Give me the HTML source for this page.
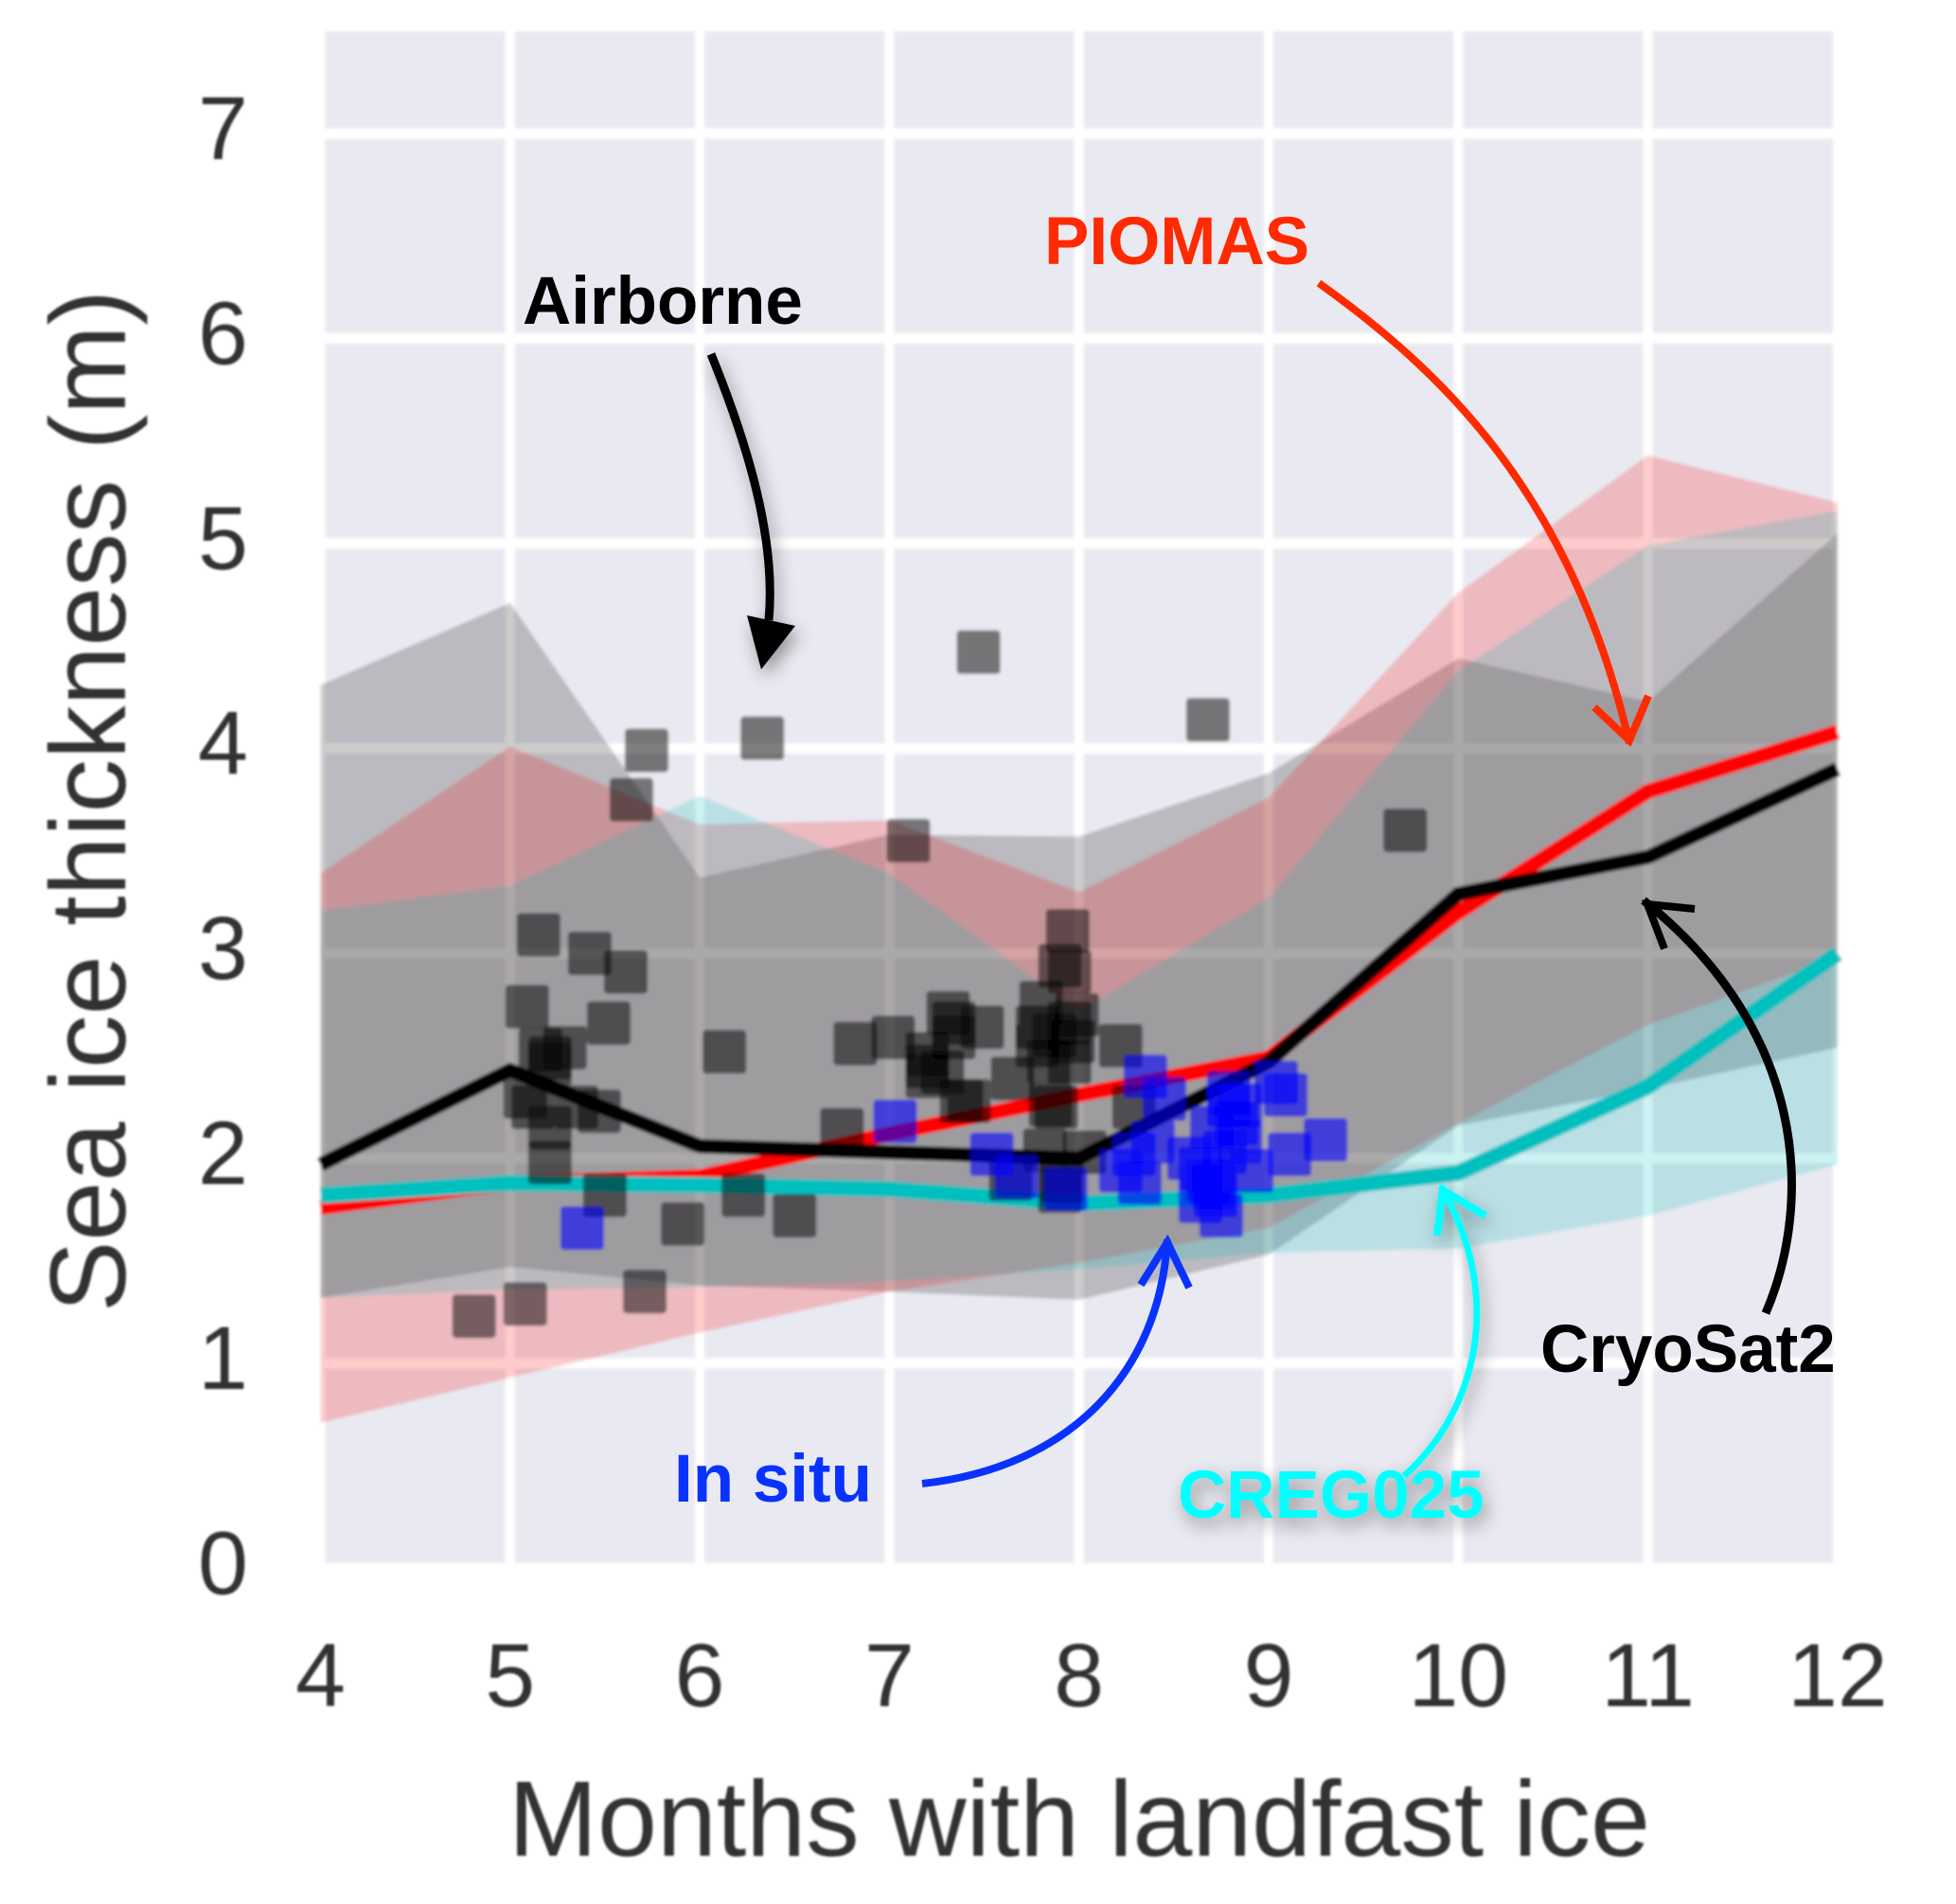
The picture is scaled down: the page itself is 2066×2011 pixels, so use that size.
<!DOCTYPE html>
<html lang="en">
<head>
<meta charset="utf-8">
<title>Sea ice thickness vs months with landfast ice</title>
<style>
html,body{margin:0;padding:0;background:#fff;width:2066px;height:2011px;overflow:hidden}
svg{display:block}
text{font-family:"Liberation Sans",Arial,sans-serif}
.tick{font-size:95px;fill:#303030}
.title{font-size:113px;fill:#303030}
.note{font-size:71px;font-weight:bold}
</style>
</head>
<body>
<svg id="chart" xmlns="http://www.w3.org/2000/svg" width="2066" height="2011" viewBox="0 0 2066 2011">
  <defs>
    <filter id="soft" x="-5%" y="-5%" width="110%" height="110%"><feGaussianBlur stdDeviation="1.6"/></filter>
    <filter id="softer" x="-5%" y="-5%" width="110%" height="110%"><feGaussianBlur stdDeviation="1.1"/></filter>
    <filter id="shadow" x="-30%" y="-30%" width="160%" height="170%"><feDropShadow dx="4" dy="8" stdDeviation="9" flood-color="#000" flood-opacity="0.38"/></filter>
  </defs>
  <g id="plot" filter="url(#soft)"></g>
  <g id="axes" filter="url(#softer)">
    <text class="title" x="1140" y="1960" text-anchor="middle">Months with landfast ice</text>
    <text class="title" transform="translate(132 846) rotate(-90)" text-anchor="middle">Sea ice thickness (m)</text>
  </g>
  <g id="annotations" fill="none" stroke-linejoin="miter">
    <text class="note" x="552" y="342" fill="#000">Airborne</text>
    <g filter="url(#shadow)">
      <path d="M751 374 C790 470 820 570 812 655" stroke="#000" stroke-width="9"/>
      <polygon points="789,650 840,661 804,707" fill="#000"/>
    </g>
    <text class="note" x="1103" y="279" fill="#ff2a00">PIOMAS</text>
    <g>
      <path d="M1393 299 C1520 390 1660 520 1721 785" stroke="#ff2a00" stroke-width="8"/>
      <path d="M1684 747 L1721 782 L1741 735" stroke="#ff2a00" stroke-width="8"/>
    </g>
    <text class="note" x="1627" y="1449" fill="#000">CryoSat2</text>
    <g>
      <path d="M1865 1387 C1915 1270 1910 1090 1736 951" stroke="#000" stroke-width="9"/>
      <path d="M1790 960 L1740 955 L1758 1002" stroke="#000" stroke-width="8"/>
    </g>
    <text class="note" x="712" y="1586" fill="#0a32ff">In situ</text>
    <g>
      <path d="M974 1567 C1130 1550 1225 1450 1233 1309" stroke="#0a32ff" stroke-width="8"/>
      <path d="M1205 1357 L1233 1312 L1256 1360" stroke="#0a32ff" stroke-width="8"/>
    </g>
    <g filter="url(#shadow)">
      <text class="note" x="1244" y="1603" fill="#00ffff" stroke="none">CREG025</text>
      <path d="M1483 1559 C1560 1490 1590 1370 1522 1253" stroke="#00ffff" stroke-width="7"/>
      <path d="M1518 1305 L1524 1257 L1569 1284" stroke="#00ffff" stroke-width="8"/>
    </g>
  </g>
</svg>
<script>
// ---- data ----
var months = [4, 5, 6, 7, 8, 9, 10, 11, 12];
var xTickLabels = ["4", "5", "6", "7", "8", "9", "10", "11", "12"];
var yTicks = [0, 1, 2, 3, 4, 5, 6, 7];

var cryosatLine  = [1.97, 2.43, 2.06, 2.03, 2.00, 2.47, 3.29, 3.47, 3.90];
var cryosatUpper = [4.31, 4.71, 3.37, 3.58, 3.57, 3.88, 4.44, 4.23, 5.05];
var cryosatLower = [1.32, 1.47, 1.38, 1.35, 1.31, 1.53, 2.16, 2.34, 2.54];

var piomasLine  = [1.76, 1.88, 1.91, 2.12, 2.31, 2.49, 3.20, 3.79, 4.08];
var piomasUpper = [3.39, 4.01, 3.63, 3.65, 3.30, 3.76, 4.76, 5.43, 5.20];
var piomasLower = [0.71, 0.93, 1.15, 1.35, 1.49, 1.66, 2.17, 2.65, 2.98];

var cregLine  = [1.82, 1.88, 1.87, 1.85, 1.78, 1.82, 1.93, 2.35, 3.00];
var cregUpper = [3.21, 3.33, 3.77, 3.39, 2.72, 3.27, 4.38, 4.99, 5.16];
var cregLower = [1.32, 1.36, 1.37, 1.40, 1.46, 1.54, 1.56, 1.72, 1.97];

var airborneMonths = [5.72,6.33,5.64,7.10,5.15,5.42,5.61,5.09,5.52,6.13,6.82,7.02,5.16,5.29,5.21,5.21,5.08,5.12,5.35,5.47,5.21,5.21,5.50,6.23,5.91,6.50,6.75,5.71,5.08,4.81,7.47,8.68,9.72,
  7.94,7.90,7.95,7.80,7.99,7.78,7.95,7.87,7.78,7.97,7.84,7.95,8.22,7.31,7.34,7.49,7.34,7.20,7.20,7.20,7.28,7.42,7.65,7.85,7.82,8.03,7.64,7.90,7.91,7.38,7.88,8.29];
var airborneThickness = [3.99,4.05,3.75,3.55,3.09,3.00,2.91,2.74,2.66,2.52,2.56,2.59,2.53,2.54,2.49,2.46,2.30,2.25,2.25,2.23,2.15,1.98,1.82,1.82,1.68,1.72,2.14,1.35,1.29,1.23,4.47,4.14,3.60,
  3.11,2.94,2.91,2.76,2.70,2.64,2.66,2.60,2.55,2.57,2.47,2.47,2.55,2.71,2.66,2.64,2.59,2.51,2.45,2.40,2.42,2.28,2.39,2.26,2.04,2.03,1.90,1.84,1.89,2.28,2.25,2.25];

var inSituMonths = [5.38,7.03,8.35,7.54,7.67,7.93,8.22,8.32,8.45,9.04,9.09,9.30,9.11,8.91,8.75,8.64,8.72,8.58,8.64,8.68,8.71,8.79,8.83,8.85,8.77,8.70,8.79,8.85,8.39,8.29];
var inSituThickness = [1.66,2.18,2.40,2.02,1.91,1.85,1.94,1.88,2.29,2.37,2.31,2.09,2.02,1.94,1.72,1.79,1.82,2.00,1.95,1.89,1.86,2.26,2.17,2.08,2.03,2.15,2.32,2.26,2.08,2.02];

// ---- axis functions ----
function xScale(m) { return 338.5 + (m - 4) * 200.3; }
function yScale(v) { return 1656.5 - v * 216.5; }

var NS = "http://www.w3.org/2000/svg";
var plot = document.getElementById("plot");
var axes = document.getElementById("axes");

function make(tag, parent) {
  var e = document.createElementNS(NS, tag);
  parent.appendChild(e);
  return e;
}

var el = make("rect", plot);


el.setAttribute("x", 338.5);
el.setAttribute("y", 33);
el.setAttribute("width", 1602.5);
el.setAttribute("height", 1623.5);
el.setAttribute("fill", "#e9e9f1");

months.forEach(function (m) {
  var g = make("line", plot);
  
  
  g.setAttribute("x1", xScale(m));
  g.setAttribute("x2", xScale(m));
  g.setAttribute("y1", 33);
  g.setAttribute("y2", 1656.5);
  g.setAttribute("stroke", "#fff");
  g.setAttribute("stroke-width", 10);
});

yTicks.forEach(function (v) {
  var g = make("line", plot);
  
  
  g.setAttribute("x1", 338.5);
  g.setAttribute("x2", 1941);
  g.setAttribute("y1", yScale(v));
  g.setAttribute("y2", yScale(v));
  g.setAttribute("stroke", "#fff");
  g.setAttribute("stroke-width", 11);
});

function bandPoints(upper, lower) {
  var pts = [];
  months.forEach(function (m, i) { pts.push(xScale(m) + "," + yScale(upper[i])); });
  for (var i = months.length - 1; i >= 0; i--) { pts.push(xScale(months[i]) + "," + yScale(lower[i])); }
  return pts.join(" ");
}

function linePoints(values) {
  return months.map(function (m, i) { return xScale(m) + "," + yScale(values[i]); }).join(" ");
}

var band1 = make("polygon", plot);


band1.setAttribute("points", bandPoints(cryosatUpper, cryosatLower));
band1.setAttribute("fill", "#000");
band1.setAttribute("fill-opacity", "0.2");

var band2 = make("polygon", plot);


band2.setAttribute("points", bandPoints(piomasUpper, piomasLower));
band2.setAttribute("fill", "#ff0000");
band2.setAttribute("fill-opacity", "0.2");

var band3 = make("polygon", plot);


band3.setAttribute("points", bandPoints(cregUpper, cregLower));
band3.setAttribute("fill", "#00bfbf");
band3.setAttribute("fill-opacity", "0.2");

var line1 = make("polyline", plot);


line1.setAttribute("points", linePoints(piomasLine));
line1.setAttribute("fill", "none");
line1.setAttribute("stroke", "#ff0000");
line1.setAttribute("stroke-width", 16);

var line2 = make("polyline", plot);


line2.setAttribute("points", linePoints(cryosatLine));
line2.setAttribute("fill", "none");
line2.setAttribute("stroke", "#000");
line2.setAttribute("stroke-width", 15);

var line3 = make("polyline", plot);


line3.setAttribute("points", linePoints(cregLine));
line3.setAttribute("fill", "none");
line3.setAttribute("stroke", "#00bfbf");
line3.setAttribute("stroke-width", 17);

var SQ = 46;
airborneMonths.forEach(function (m, i) {
  var s = make("rect", plot);
  
  
  s.setAttribute("x", xScale(m) - SQ / 2);
  s.setAttribute("y", yScale(airborneThickness[i]) - SQ / 2);
  s.setAttribute("width", SQ);
  s.setAttribute("height", SQ);
  s.setAttribute("rx", 4);
  s.setAttribute("fill", "#000");
  s.setAttribute("fill-opacity", "0.5");
});

inSituMonths.forEach(function (m, i) {
  var s = make("rect", plot);
  
  
  s.setAttribute("x", xScale(m) - SQ / 2);
  s.setAttribute("y", yScale(inSituThickness[i]) - SQ / 2);
  s.setAttribute("width", SQ);
  s.setAttribute("height", SQ);
  s.setAttribute("rx", 4);
  s.setAttribute("fill", "#0000ff");
  s.setAttribute("fill-opacity", "0.6");
});

months.forEach(function (m, i) {
  var t = make("text", axes);
  
  
  t.setAttribute("class", "tick");
  t.setAttribute("x", xScale(m));
  t.setAttribute("y", 1802);
  t.setAttribute("text-anchor", "middle");
  t.textContent = xTickLabels[i];
});

yTicks.forEach(function (v) {
  var t = make("text", axes);
  
  
  t.setAttribute("class", "tick");
  t.setAttribute("x", 262);
  t.setAttribute("y", yScale(v) + 27);
  t.setAttribute("text-anchor", "end");
  t.textContent = String(v);
});
</script>
</body>
</html>
